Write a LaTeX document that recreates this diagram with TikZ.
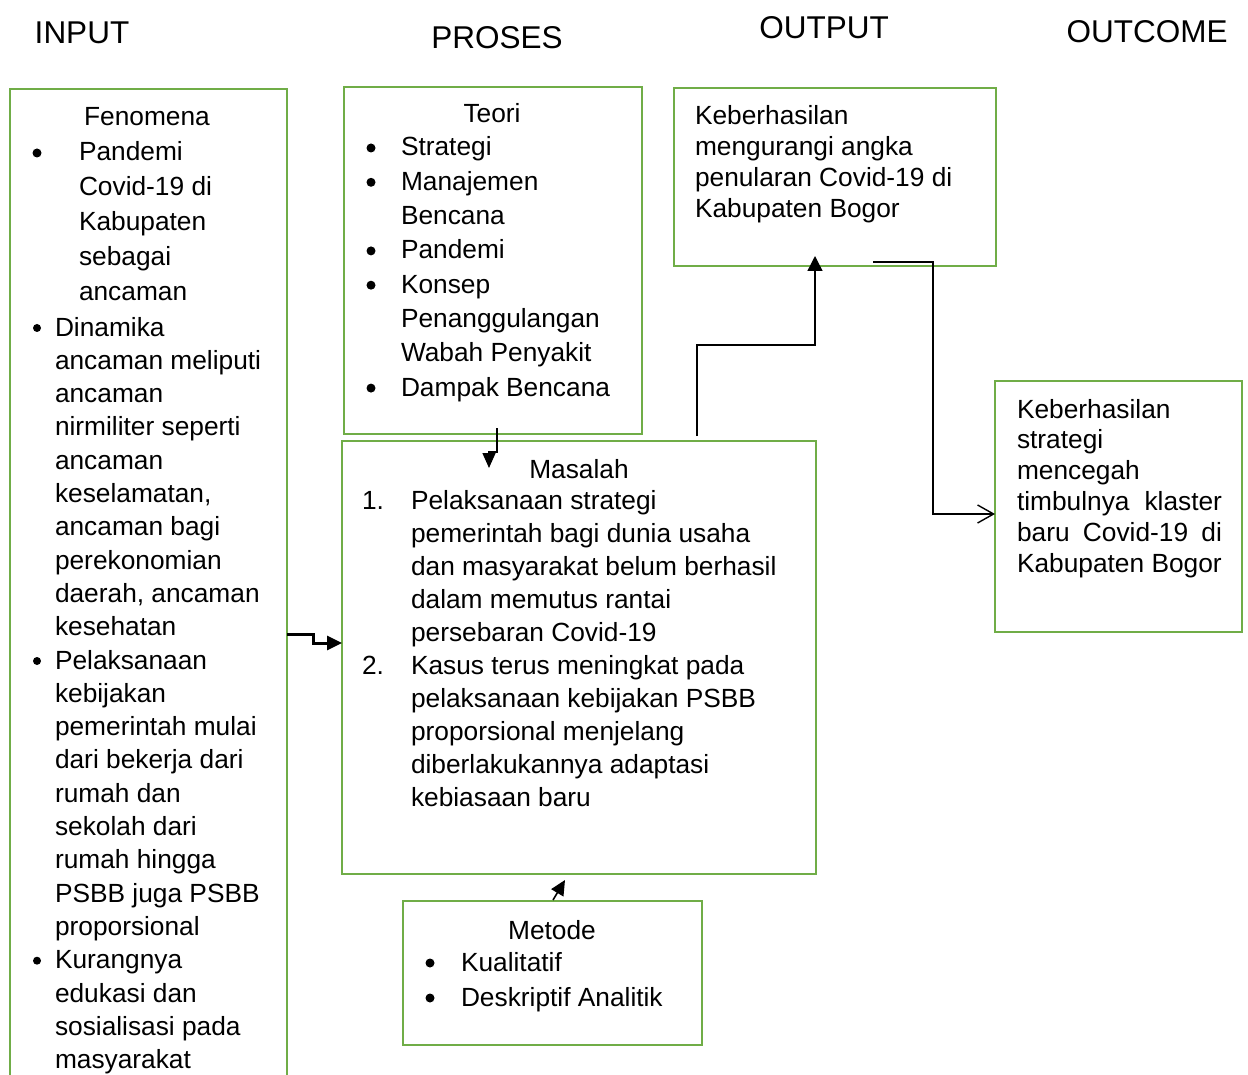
\documentclass[tikz,border=0pt]{standalone}
\usepackage{fontspec}
\setmainfont{Liberation Sans}
\usetikzlibrary{arrows.meta}
\definecolor{boxgreen}{HTML}{70AD47}
\begin{document}
\begin{tikzpicture}[x=0.5pt,y=-0.5pt,
  box/.style={draw=boxgreen, line width=1.35pt, inner sep=0pt, outer sep=0pt, anchor=north west},
  txt/.style={inner sep=0pt, outer sep=0pt, anchor=base west, font=\fontsize{13.15pt}{15pt}\selectfont},
  ctxt/.style={txt, anchor=base},
  head/.style={inner sep=0pt, outer sep=0pt, anchor=base, font=\fontsize{15.75pt}{18pt}\selectfont},
  conn/.style={draw=black, line width=0.7pt}]
\useasboundingbox (0,0) rectangle (1248,1075);
\clip (0,0) rectangle (1248,1075);
\fill[white] (0,0) rectangle (1248,1075);

% headers
\node[head] (hin) at (82,44) {INPUT};
\node[head] (hpr) at (497,49) {PROSES};
\node[head] (hout) at (824,39) {OUTPUT};
\node[head] (hoc) at (1147,43) {OUTCOME};

% boxes
\node[box, minimum width=138.5pt, minimum height=498pt] (input) at (10,89) {};
\node[box, minimum width=149pt, minimum height=173.5pt] (teori) at (344,87) {};
\node[box, minimum width=161pt, minimum height=89pt] (output) at (674,88) {};
\node[box, minimum width=237pt, minimum height=216.5pt] (masalah) at (342,441) {};
\node[box, minimum width=123.5pt, minimum height=125.5pt] (outcome) at (995,381) {};
\node[box, minimum width=149.5pt, minimum height=72pt] (metode) at (403,901) {};

% INPUT text
\node[ctxt] (fen) at (147,126) {Fenomena};
\fill (37,153) circle[radius=2.25pt];
\foreach \t [count=\i] in {Pandemi, Covid-19 di, Kabupaten, sebagai, ancaman}
  \node[txt] (ina-\i) at (79,{161+(\i-1)*35}) {\t};
\foreach \t [count=\i] in {Dinamika, ancaman meliputi, ancaman, nirmiliter seperti, ancaman,
  {keselamatan,}, ancaman bagi, perekonomian, {daerah, ancaman}, kesehatan,
  Pelaksanaan, kebijakan, pemerintah mulai, dari bekerja dari, rumah dan, sekolah dari,
  rumah hingga, PSBB juga PSBB, proporsional,
  Kurangnya, edukasi dan, sosialisasi pada, masyarakat}
  \node[txt] (inb-\i) at (55,{336+(\i-1)*33.3}) {\t};
\foreach \k in {0,10,19}
  \fill (37,{328+\k*33.3}) circle[radius=2pt];

% Teori text
\node[ctxt] (teorih) at (492,123) {Teori};
\foreach \t [count=\i] in {Strategi, Manajemen, Bencana, Pandemi, Konsep, Penanggulangan, Wabah Penyakit, Dampak Bencana}
  \node[txt] (te-\i) at (401,{156+(\i-1)*34.3}) {\t};
\foreach \k in {0,1,3,4,7}
  \fill (371,{148+\k*34.3}) circle[radius=2.25pt];

% Output text
\foreach \t [count=\i] in {Keberhasilan, mengurangi angka, penularan Covid-19 di, Kabupaten Bogor}
  \node[txt] (ou-\i) at (695,{125+(\i-1)*30.7}) {\t};

% Masalah text
\node[ctxt] (mash) at (579,478) {Masalah};
\node[txt] (num1) at (362,509) {1.};
\node[txt] (num2) at (362,674.5) {2.};
\foreach \t [count=\i] in {Pelaksanaan strategi, pemerintah bagi dunia usaha, dan masyarakat belum berhasil,
  dalam memutus rantai, persebaran Covid-19, Kasus terus meningkat pada, pelaksanaan kebijakan PSBB,
  proporsional menjelang, diberlakukannya adaptasi, kebiasaan baru}
  \node[txt] (ma-\i) at (411,{509+(\i-1)*33.1}) {\t};

% Outcome text
\foreach \t [count=\i] in {Keberhasilan, strategi, mencegah, {\makebox[102.5pt][s]{timbulnya klaster}},
  {\makebox[102.5pt][s]{baru Covid-19 di}}, Kabupaten Bogor}
  \node[txt] (oc-\i) at (1017,{418+(\i-1)*30.8}) {\t};

% Metode text
\node[ctxt] (meth) at (552,939) {Metode};
\node[txt] (me-1) at (461,971) {Kualitatif};
\node[txt] (me-2) at (461,1006) {Deskriptif Analitik};
\fill (430,963) circle[radius=2.25pt];
\fill (430,998) circle[radius=2.25pt];

% connectors
\coordinate (a1s) at (497,428);
\coordinate (a1e) at (489,468);
\draw[conn, -{Triangle[length=7.5pt,width=6.5pt]}] (a1s) -- (497,452) -| (a1e);

\draw[line width=1.5pt, -{Triangle[length=7.5pt,width=7pt]}] (input.east |- 0,634) -- (313,634) |- (masalah.west |- 0,643);

\coordinate (a3s) at (553,900);
\coordinate (a3e) at (565,880);
\draw[line width=0.8pt, -{Triangle[length=7.5pt,width=7pt]}] (a3s) -- (a3e);

\coordinate (a4s) at (697,436);
\coordinate (a4e) at (815,256);
\draw[conn, -{Triangle[length=7.5pt,width=7.5pt]}] (a4s) |- (815,345) -- (a4e);

\coordinate (a5s) at (873,262);
\draw[conn, -{Straight Barb[length=8pt,width=9pt]}] (a5s) -- (933,262) |- (outcome.west |- 0,514);
\end{tikzpicture}
\end{document}
